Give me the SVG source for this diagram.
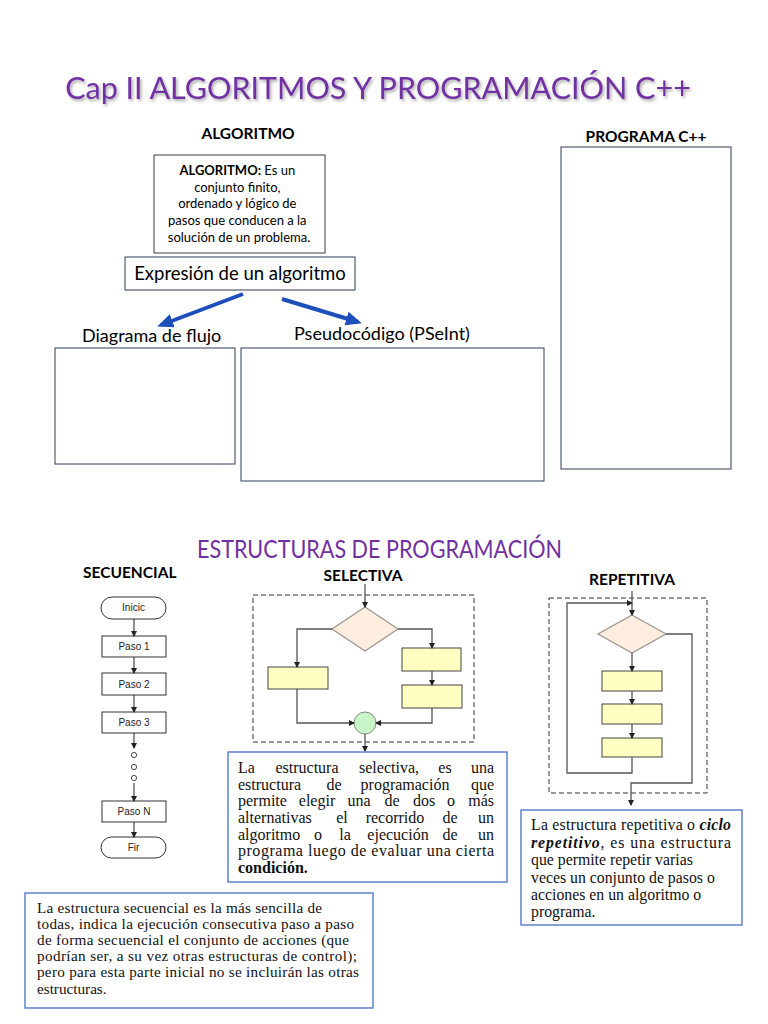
<svg xmlns="http://www.w3.org/2000/svg" width="768" height="1024" viewBox="0 0 768 1024">
<style>
.cal{font-family:Lato,"Open Sans","Liberation Sans",sans-serif;fill:#000}
.b{font-weight:bold}
.purple{fill:#7030a0}
.ser{font-family:"Liberation Serif","DejaVu Serif",serif;fill:#111}
.s1{font-size:16px}
.s2{font-size:15.8px}
.s3{font-size:15.2px}
.frame{fill:#fff;stroke:#2e3a56;stroke-width:1}
.tbox{fill:#fff;stroke:#4472c4;stroke-width:1.3}
.fl{fill:none;stroke:#555;stroke-width:1.3}
.ybox{fill:#ffffc2;stroke:#444;stroke-width:1}
.dia{fill:#fdeee0;stroke:#9a948c;stroke-width:1.2}
.dash{fill:none;stroke:#333;stroke-width:1;stroke-dasharray:5,3}
.sbox{fill:#fff;stroke:#333;stroke-width:1}
.stx{font-family:"Liberation Sans",Arial,sans-serif;font-size:10px;fill:#222;text-anchor:middle}
.blue{stroke:#1c4fba;stroke-width:4;fill:none}
</style>
<defs>
<filter id="sh" x="-10%" y="-50%" width="120%" height="200%">
<feDropShadow dx="1.5" dy="2" stdDeviation="1.5" flood-color="#000" flood-opacity="0.35"/>
</filter>
<marker id="ah" markerWidth="6" markerHeight="6" refX="5" refY="3" orient="auto" markerUnits="userSpaceOnUse">
<path d="M0,0 L6,3 L0,6 z" fill="#222"/>
</marker>
<marker id="bh" markerWidth="16" markerHeight="14" refX="12" refY="7" orient="auto" markerUnits="userSpaceOnUse">
<path d="M0,0 L16,7 L0,14 z" fill="#1c4fba"/>
</marker>
</defs>
<rect width="768" height="1024" fill="#fff"/>

<g id="title" filter="url(#sh)">
<text class="cal purple" x="378" y="99" font-size="30.5" text-anchor="middle">Cap II ALGORITMOS Y PROGRAMACIÓN C++</text>
</g>

<g id="hdr-algoritmo"><text class="cal b" x="248" y="139" font-size="15.5" text-anchor="middle">ALGORITMO</text></g>
<g id="hdr-programa"><text class="cal b" x="646" y="142" font-size="15.5" text-anchor="middle">PROGRAMA C++</text></g>

<g id="definicion">
<rect x="154" y="155" width="171" height="98" fill="#fff" stroke="#3a3a3a" stroke-width="1"/>
<text class="cal" font-size="13" text-anchor="middle">
<tspan x="239" y="175"><tspan class="b">ALGORITMO:</tspan> Es un</tspan>
<tspan x="239" y="192">conjunto finito,</tspan>
<tspan x="239" y="208">ordenado y lógico de</tspan>
<tspan x="239" y="225">pasos que conducen a la</tspan>
<tspan x="239" y="242">solución de un problema.</tspan>
</text>
</g>

<g id="expresion">
<rect x="125" y="257" width="230" height="33" fill="#fff" stroke="#2e3a56" stroke-width="1"/>
<text class="cal" x="240" y="280" font-size="18.5" text-anchor="middle">Expresión de un algoritmo</text>
</g>

<g id="connectors-top">
<line class="blue" x1="243" y1="294" x2="161" y2="325" marker-end="url(#bh)"/>
<line class="blue" x1="282" y1="299" x2="358" y2="322" marker-end="url(#bh)"/>
</g>

<g id="diagrama">
<text class="cal" x="82" y="342" font-size="18">Diagrama de flujo</text>
<rect class="frame" x="55" y="348" width="180" height="116"/>
</g>
<g id="pseudocodigo">
<text class="cal" x="294" y="340" font-size="18">Pseudocódigo (PSeInt)</text>
<rect class="frame" x="241" y="348" width="303" height="133"/>
</g>
<g id="programa">
<rect class="frame" x="561" y="147" width="170" height="322"/>
</g>

<g id="hdr-estructuras">
<text class="cal purple" x="197" y="558" font-size="25" textLength="365" lengthAdjust="spacingAndGlyphs">ESTRUCTURAS DE PROGRAMACIÓN</text>
</g>
<g id="hdr-secuencial"><text class="cal b" x="83" y="578" font-size="15.5">SECUENCIAL</text></g>
<g id="hdr-selectiva"><text class="cal b" x="363" y="581" font-size="15.5" text-anchor="middle">SELECTIVA</text></g>
<g id="hdr-repetitiva"><text class="cal b" x="632" y="585" font-size="15.5" text-anchor="middle">REPETITIVA</text></g>

<g id="secuencial">
<rect class="sbox" x="101" y="597" width="65" height="22" rx="11"/>
<text class="stx" x="133.5" y="611">Inicic</text>
<rect class="sbox" x="102" y="636" width="64" height="21"/>
<text class="stx" x="134" y="650">Paso 1</text>
<rect class="sbox" x="102" y="673" width="64" height="22"/>
<text class="stx" x="134" y="688">Paso 2</text>
<rect class="sbox" x="102" y="712" width="64" height="21"/>
<text class="stx" x="134" y="726">Paso 3</text>
<circle cx="134" cy="755" r="2.6" fill="#fff" stroke="#333" stroke-width="0.9"/>
<circle cx="134" cy="767" r="2.6" fill="#fff" stroke="#333" stroke-width="0.9"/>
<circle cx="134" cy="778" r="2.6" fill="#fff" stroke="#333" stroke-width="0.9"/>
<rect class="sbox" x="102" y="801" width="64" height="21"/>
<text class="stx" x="134" y="815">Paso N</text>
<rect class="sbox" x="101" y="837" width="65" height="21" rx="10.5"/>
<text class="stx" x="133.5" y="851">Fir</text>
</g>

<g id="selectiva">
<rect class="dash" x="253" y="595" width="221" height="147"/>
<polygon class="dia" points="365,607 398,629 365,651 332,629"/>
<rect class="ybox" x="268" y="667" width="60" height="22"/>
<rect class="ybox" x="402" y="648" width="59" height="23"/>
<rect class="ybox" x="402" y="685" width="60" height="23"/>
<circle cx="365" cy="723" r="11" fill="#c8f5c8" stroke="#888" stroke-width="1"/>
</g>

<g id="repetitiva">
<rect class="dash" x="549" y="598" width="158" height="195"/>
<polygon class="dia" points="632,615 666,634 632,653 598,634"/>
<rect class="ybox" x="602" y="671" width="60" height="20"/>
<rect class="ybox" x="602" y="704" width="60" height="20"/>
<rect class="ybox" x="602" y="738" width="60" height="19"/>
</g>

<g id="connectors">
<g fill="none" stroke="#222" stroke-width="1">
<line x1="134" y1="619" x2="134" y2="636" marker-end="url(#ah)"/>
<line x1="134" y1="657" x2="134" y2="673" marker-end="url(#ah)"/>
<line x1="134" y1="695" x2="134" y2="712" marker-end="url(#ah)"/>
<line x1="134" y1="733" x2="134" y2="748" marker-end="url(#ah)"/>
<line x1="134" y1="783" x2="134" y2="801" marker-end="url(#ah)"/>
<line x1="134" y1="822" x2="134" y2="837" marker-end="url(#ah)"/>
</g>
<line class="fl" x1="365" y1="584" x2="365" y2="607" marker-end="url(#ah)"/>
<polyline class="fl" points="332,629 297,629 297,667" marker-end="url(#ah)"/>
<polyline class="fl" points="398,629 432,629 432,648" marker-end="url(#ah)"/>
<line class="fl" x1="432" y1="671" x2="432" y2="685" marker-end="url(#ah)"/>
<polyline class="fl" points="297,689 297,723 354,723" marker-end="url(#ah)"/>
<polyline class="fl" points="432,708 432,723 376,723" marker-end="url(#ah)"/>
<line class="fl" x1="365" y1="734" x2="365" y2="751" marker-end="url(#ah)"/>
<line class="fl" x1="632" y1="591" x2="632" y2="615" marker-end="url(#ah)"/>
<line class="fl" x1="632" y1="653" x2="632" y2="671" marker-end="url(#ah)"/>
<line class="fl" x1="632" y1="691" x2="632" y2="704" marker-end="url(#ah)"/>
<line class="fl" x1="632" y1="724" x2="632" y2="738" marker-end="url(#ah)"/>
<polyline class="fl" points="632,757 632,773 567,773 567,603 632,603" marker-end="url(#ah)"/>
<polyline class="fl" points="666,634 692,634 692,783 631,783 631,805" marker-end="url(#ah)"/>
</g>

<g id="texto-selectiva">
<rect class="tbox" x="228" y="752" width="279" height="130"/>
<g class="ser s1">
<text x="238" y="773">La</text><text x="307" y="773" text-anchor="middle">estructura</text><text x="389" y="773" text-anchor="middle">selectiva,</text><text x="445" y="773" text-anchor="middle">es</text><text x="494" y="773" text-anchor="end">una</text>
<text x="238" y="790">estructura</text><text x="334" y="790" text-anchor="middle">de</text><text x="405" y="790" text-anchor="middle">programación</text><text x="494" y="790" text-anchor="end">que</text>
<text x="238" y="806">permite</text><text x="317" y="806" text-anchor="middle">elegir</text><text x="359" y="806" text-anchor="middle">una</text><text x="392" y="806" text-anchor="middle">de</text><text x="424" y="806" text-anchor="middle">dos</text><text x="451" y="806" text-anchor="middle">o</text><text x="494" y="806" text-anchor="end">más</text>
<text x="238" y="823">alternativas</text><text x="342" y="823" text-anchor="middle">el</text><text x="395" y="823" text-anchor="middle">recorrido</text><text x="450" y="823" text-anchor="middle">de</text><text x="494" y="823" text-anchor="end">un</text>
<text x="238" y="840">algoritmo</text><text x="318" y="840" text-anchor="middle">o</text><text x="345" y="840" text-anchor="middle">la</text><text x="398" y="840" text-anchor="middle">ejecución</text><text x="450" y="840" text-anchor="middle">de</text><text x="494" y="840" text-anchor="end">un</text>
<text x="238" y="856" textLength="256" lengthAdjust="spacing">programa luego de evaluar una cierta</text>
<text x="238" y="873" font-weight="bold">condición.</text>
</g>
</g>

<g id="texto-repetitiva">
<rect class="tbox" x="521" y="810" width="221" height="115"/>
<g class="ser s2">
<text x="531" y="830" textLength="200" lengthAdjust="spacing">La estructura repetitiva o <tspan font-weight="bold" font-style="italic">ciclo</tspan></text>
<text x="531" y="848" textLength="200" lengthAdjust="spacing"><tspan font-weight="bold" font-style="italic">repetitivo</tspan>, es una estructura</text>
<text x="531" y="865">que permite repetir varias</text>
<text x="531" y="883">veces un conjunto de pasos o</text>
<text x="531" y="900">acciones en un algoritmo o</text>
<text x="531" y="917">programa.</text>
</g>
</g>

<g id="texto-secuencial">
<rect class="tbox" x="25" y="893" width="348" height="115"/>
<g class="ser s3">
<text x="37" y="913" textLength="285" lengthAdjust="spacing">La estructura secuencial es la más sencilla de</text>
<text x="37" y="929" textLength="317" lengthAdjust="spacing">todas, indica la ejecución consecutiva paso a paso</text>
<text x="37" y="945" textLength="312" lengthAdjust="spacing">de forma secuencial el conjunto de acciones (que</text>
<text x="37" y="961" textLength="320" lengthAdjust="spacing">podrían ser, a su vez otras estructuras de control);</text>
<text x="37" y="977" textLength="322" lengthAdjust="spacing">pero para esta parte inicial no se incluirán las otras</text>
<text x="37" y="994">estructuras.</text>
</g>
</g>
</svg>
